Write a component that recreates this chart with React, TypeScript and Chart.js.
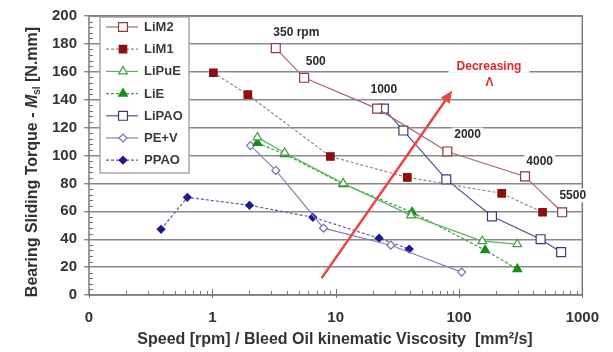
import { useEffect, useRef } from "react";
import { Chart, registerables } from "chart.js";
Chart.register(...registerables);

// ---------- data ----------
const seriesNames = ["LiM2", "LiM1", "LiPuE", "LiE", "LiPAO", "PE+V", "PPAO"];

const lim2X = [3.27, 5.55, 21.7, 80.4, 343, 686];
const lim2Y = [177, 155.7, 133.6, 102.9, 85, 59.3];

const lim1X = [1.02, 1.94, 9.06, 38.1, 222, 476];
const lim1Y = [159.3, 143.6, 99.3, 84.3, 72.9, 59.3];

const lipueX = [2.32, 3.86, 11.5, 40.9, 154.5, 297];
const lipueY = [113, 102, 80, 57.1, 38.6, 36.4];

const lieX = [2.32, 3.86, 11.5, 41.7, 163, 297];
const lieY = [109, 101, 79.5, 59.3, 32.1, 18.6];

const lipaoX = [24.6, 35.4, 78.9, 185, 459, 673];
const lipaoY = [133.6, 117.9, 82.9, 56.4, 40, 30.7];

const pevX = [2.04, 3.27, 7.98, 28, 105];
const pevY = [107.1, 89.3, 47.9, 35.7, 16.4];

const ppaoX = [0.384, 0.627, 2.0, 6.53, 22.5, 39.5];
const ppaoY = [47.1, 70, 64.3, 55.7, 40.7, 32.9];

const xTickValues = [0.1, 1, 10, 100, 1000];
const xTickLabels = ["0", "1", "10", "100", "1000"];
const yMin = 0;
const yMax = 200;
const yStep = 20;

const speedLabels = ["350 rpm", "500", "1000", "2000", "4000", "5500"];
const speedLabelX = [4.8, 6.9, 24.6, 117.5, 451, 837];
const speedLabelY = [187.9, 167.1, 147.1, 115, 95.7, 71.4];

const arrowFrom = { x: 7.7, y: 12.1 };
const arrowTo = { x: 87.9, y: 146.4 };
const decreasingText = "Decreasing";
const lambdaText = "Λ";
const decreasingPos = { x: 175, y: 163.6 };
const lambdaPos = { x: 177, y: 152.1 };

const xTitle = "Speed [rpm] / Bleed Oil kinematic Viscosity  [mm²/s]";

// ---------- styles ----------
const FONT = "'Liberation Sans', Arial, sans-serif";
type Sty = {
  line: string;
  mark: string;
  shape: "rect" | "triangle" | "rectRot";
  hollow: boolean;
  r: number;
  dash: number[];
};
const styles: Sty[] = [
  { line: "#a86a6a", mark: "#8c3a3a", shape: "rect", hollow: true, r: 6.3, dash: [] },
  { line: "#a58080", mark: "#8c1010", shape: "rect", hollow: false, r: 5.3, dash: [3, 2] },
  { line: "#5cb85c", mark: "#4a9a4a", shape: "triangle", hollow: true, r: 5, dash: [] },
  { line: "#3c9c3c", mark: "#1a8c1a", shape: "triangle", hollow: false, r: 5, dash: [3, 2] },
  { line: "#50508a", mark: "#3a3a7c", shape: "rect", hollow: true, r: 6.3, dash: [] },
  { line: "#8484bc", mark: "#7070b0", shape: "rectRot", hollow: true, r: 4, dash: [] },
  { line: "#5a5aa0", mark: "#1a1a92", shape: "rectRot", hollow: false, r: 3.8, dash: [3, 2] },
];
const seriesX = [lim2X, lim1X, lipueX, lieX, lipaoX, pevX, ppaoX];
const seriesY = [lim2Y, lim1Y, lipueY, lieY, lipaoY, pevY, ppaoY];

function drawMarker(ctx: CanvasRenderingContext2D, s: Sty, x: number, y: number) {
  const r = s.r;
  ctx.save();
  ctx.beginPath();
  ctx.setLineDash([]);
  if (s.shape === "rect") {
    const h = Math.SQRT1_2 * r;
    ctx.rect(x - h, y - h, 2 * h, 2 * h);
  } else if (s.shape === "triangle") {
    let a = 0;
    ctx.moveTo(x + Math.sin(a) * r, y - Math.cos(a) * r);
    a += (2 * Math.PI) / 3;
    ctx.lineTo(x + Math.sin(a) * r, y - Math.cos(a) * r);
    a += (2 * Math.PI) / 3;
    ctx.lineTo(x + Math.sin(a) * r, y - Math.cos(a) * r);
    ctx.closePath();
  } else {
    ctx.moveTo(x - r, y);
    ctx.lineTo(x, y - r);
    ctx.lineTo(x + r, y);
    ctx.lineTo(x, y + r);
    ctx.closePath();
  }
  ctx.fillStyle = s.hollow ? "#ffffff" : s.mark;
  ctx.fill();
  ctx.lineWidth = 1.2;
  ctx.strokeStyle = s.mark;
  ctx.stroke();
  ctx.restore();
}

const decoPlugin = {
  id: "deco",
  afterDatasetsDraw(chart: any) {
    const ctx: CanvasRenderingContext2D = chart.ctx;
    const a = chart.chartArea;
    const xs = chart.scales.x;
    const ys = chart.scales.y;
    ctx.save();

    // minor ticks on y axis (inside)
    ctx.strokeStyle = "#777";
    ctx.lineWidth = 1;
    for (let v = yMin; v <= yMax; v += 4) {
      if (v % yStep === 0) continue;
      const py = Math.round(ys.getPixelForValue(v)) + 0.5;
      ctx.beginPath();
      ctx.moveTo(a.left, py);
      ctx.lineTo(a.left + 4, py);
      ctx.stroke();
    }
    // log ticks on x axis
    for (let d = 0.1; d < 1001; d *= 10) {
      for (let m = 1; m <= 9; m++) {
        const v = d * m;
        if (v > 1000.0001) break;
        const px = Math.round(xs.getPixelForValue(v)) + 0.5;
        ctx.beginPath();
        if (m === 1) {
          ctx.moveTo(px, a.bottom - 6);
          ctx.lineTo(px, a.bottom + 3);
        } else {
          ctx.moveTo(px, a.bottom - 4);
          ctx.lineTo(px, a.bottom);
        }
        ctx.stroke();
      }
    }

    // frame
    ctx.strokeStyle = "#7a7a7a";
    ctx.lineWidth = 1.5;
    ctx.strokeRect(a.left, a.top, a.right - a.left, a.bottom - a.top);

    // legend
    const lx = 100, ly = 17, lw = 89, lh = 156;
    ctx.fillStyle = "#ffffff";
    ctx.fillRect(lx, ly, lw, lh);
    ctx.strokeStyle = "#999";
    ctx.lineWidth = 1.3;
    ctx.strokeRect(lx, ly, lw, lh);
    ctx.font = `bold 13px ${FONT}`;
    ctx.textBaseline = "middle";
    ctx.textAlign = "left";
    seriesNames.forEach((name, i) => {
      const s = styles[i];
      const yy = 27 + i * 22.2;
      ctx.save();
      ctx.strokeStyle = s.line;
      ctx.lineWidth = 1.2;
      ctx.setLineDash(s.dash);
      ctx.beginPath();
      ctx.moveTo(106, yy);
      ctx.lineTo(138, yy);
      ctx.stroke();
      ctx.restore();
      drawMarker(ctx, s, 123, yy);
      ctx.fillStyle = "#3a3a3a";
      ctx.fillText(name, 144, yy + 0.5);
    });

    // arrow
    const x1 = xs.getPixelForValue(arrowFrom.x), y1 = ys.getPixelForValue(arrowFrom.y);
    const x2 = xs.getPixelForValue(arrowTo.x), y2 = ys.getPixelForValue(arrowTo.y);
    const ang = Math.atan2(y2 - y1, x2 - x1);
    const hl = 12, hw = 5.5;
    ctx.strokeStyle = "#e5484a";
    ctx.fillStyle = "#e5484a";
    ctx.lineWidth = 2.6;
    ctx.beginPath();
    ctx.moveTo(x1, y1);
    ctx.lineTo(x2 - Math.cos(ang) * hl * 0.8, y2 - Math.sin(ang) * hl * 0.8);
    ctx.stroke();
    ctx.beginPath();
    ctx.moveTo(x2, y2);
    ctx.lineTo(x2 - Math.cos(ang) * hl - Math.sin(ang) * hw, y2 - Math.sin(ang) * hl + Math.cos(ang) * hw);
    ctx.lineTo(x2 - Math.cos(ang) * hl + Math.sin(ang) * hw, y2 - Math.sin(ang) * hl - Math.cos(ang) * hw);
    ctx.closePath();
    ctx.fill();

    // speed labels
    ctx.font = `bold 12px ${FONT}`;
    ctx.textAlign = "center";
    ctx.textBaseline = "middle";
    speedLabels.forEach((t, i) => {
      const px = xs.getPixelForValue(speedLabelX[i]);
      const py = ys.getPixelForValue(speedLabelY[i]);
      const w = ctx.measureText(t).width;
      ctx.fillStyle = "#ffffff";
      ctx.fillRect(px - w / 2 - 2, py - 7, w + 4, 14);
      ctx.fillStyle = "#2a2a2a";
      ctx.fillText(t, px, py);
    });

    // Decreasing Λ
    const dx = xs.getPixelForValue(decreasingPos.x), dy = ys.getPixelForValue(decreasingPos.y);
    const dw = ctx.measureText(decreasingText).width;
    ctx.fillStyle = "#ffffff";
    ctx.fillRect(dx - dw / 2 - 8, dy - 7, dw + 16, 13);
    ctx.fillStyle = "#e02828";
    ctx.fillText(decreasingText, dx, dy);
    const lxp = xs.getPixelForValue(lambdaPos.x), lyp = ys.getPixelForValue(lambdaPos.y);
    ctx.fillText(lambdaText, lxp, lyp);

    ctx.restore();
  },
  afterDraw(chart: any) {
    const ctx: CanvasRenderingContext2D = chart.ctx;
    ctx.save();
    ctx.fillStyle = "#333";
    ctx.textBaseline = "middle";
    // x title
    ctx.font = `bold 16px ${FONT}`;
    ctx.textAlign = "center";
    ctx.fillText(xTitle, 335, 340);
    // y title
    ctx.translate(33, 162);
    ctx.rotate(-Math.PI / 2);
    const p1 = "Bearing Sliding Torque - ";
    const p2 = "M";
    const p3 = "sl";
    const p4 = " [N.mm]";
    const f1 = `bold 16px ${FONT}`;
    const f2 = `italic bold 16px ${FONT}`;
    const f3 = `bold 10px ${FONT}`;
    ctx.font = f1;
    const w1 = ctx.measureText(p1).width;
    const w4 = ctx.measureText(p4).width;
    ctx.font = f2;
    const w2 = ctx.measureText(p2).width;
    ctx.font = f3;
    const w3 = ctx.measureText(p3).width;
    let x = -(w1 + w2 + w3 + w4) / 2;
    ctx.textAlign = "left";
    ctx.font = f1;
    ctx.fillText(p1, x, 0);
    x += w1;
    ctx.font = f2;
    ctx.fillText(p2, x, 0);
    x += w2;
    ctx.font = f3;
    ctx.fillText(p3, x, 4);
    x += w3;
    ctx.font = f1;
    ctx.fillText(p4, x, 0);
    ctx.restore();
  },
};

export default function App() {
  const ref = useRef<HTMLCanvasElement | null>(null);
  useEffect(() => {
    if (!ref.current) return;
    const datasets = seriesNames.map((name, i) => {
      const s = styles[i];
      return {
        label: name,
        data: seriesX[i].map((x, j) => ({ x, y: seriesY[i][j] })),
        borderColor: s.line,
        borderWidth: 1.2,
        borderDash: s.dash,
        pointStyle: s.shape,
        pointRadius: s.r,
        pointBorderColor: s.mark,
        pointBackgroundColor: s.hollow ? "#ffffff" : s.mark,
        pointBorderWidth: 1.2,
        tension: 0,
        fill: false,
      };
    });
    const chart = new Chart(ref.current, {
      type: "line",
      data: { datasets },
      plugins: [decoPlugin],
      options: {
        animation: false,
        responsive: true,
        maintainAspectRatio: false,
        layout: { padding: { top: 15, right: 17, bottom: 0, left: 0 } },
        plugins: { legend: { display: false }, tooltip: { enabled: false } },
        scales: {
          x: {
            type: "logarithmic",
            min: 0.1,
            max: 1000,
            afterBuildTicks: (s: any) => {
              s.ticks = xTickValues.map((v) => ({ value: v }));
            },
            ticks: {
              autoSkip: false,
              maxRotation: 0,
              padding: 14,
              color: "#333",
              font: { family: FONT, size: 15, weight: "bold" },
              callback: (_v: any, i: number) => xTickLabels[i],
            },
            grid: { display: false, drawTicks: false },
            border: { display: false },
            afterFit: (s: any) => {
              s.height = 57;
            },
          },
          y: {
            min: yMin,
            max: yMax,
            ticks: {
              stepSize: yStep,
              padding: 7,
              color: "#333",
              font: { family: FONT, size: 15, weight: "bold" },
            },
            grid: { color: "#8a8a8a", lineWidth: 1.4, tickLength: 5, drawTicks: true },
            border: { display: false },
            afterFit: (s: any) => {
              s.width = 89;
            },
          },
        },
      } as any,
    });
    return () => chart.destroy();
  }, []);
  return (
    <div style={{ position: "absolute", left: 0, top: 0, width: 613, height: 352, background: "#fff" }}>
      <canvas ref={ref} />
    </div>
  );
}
